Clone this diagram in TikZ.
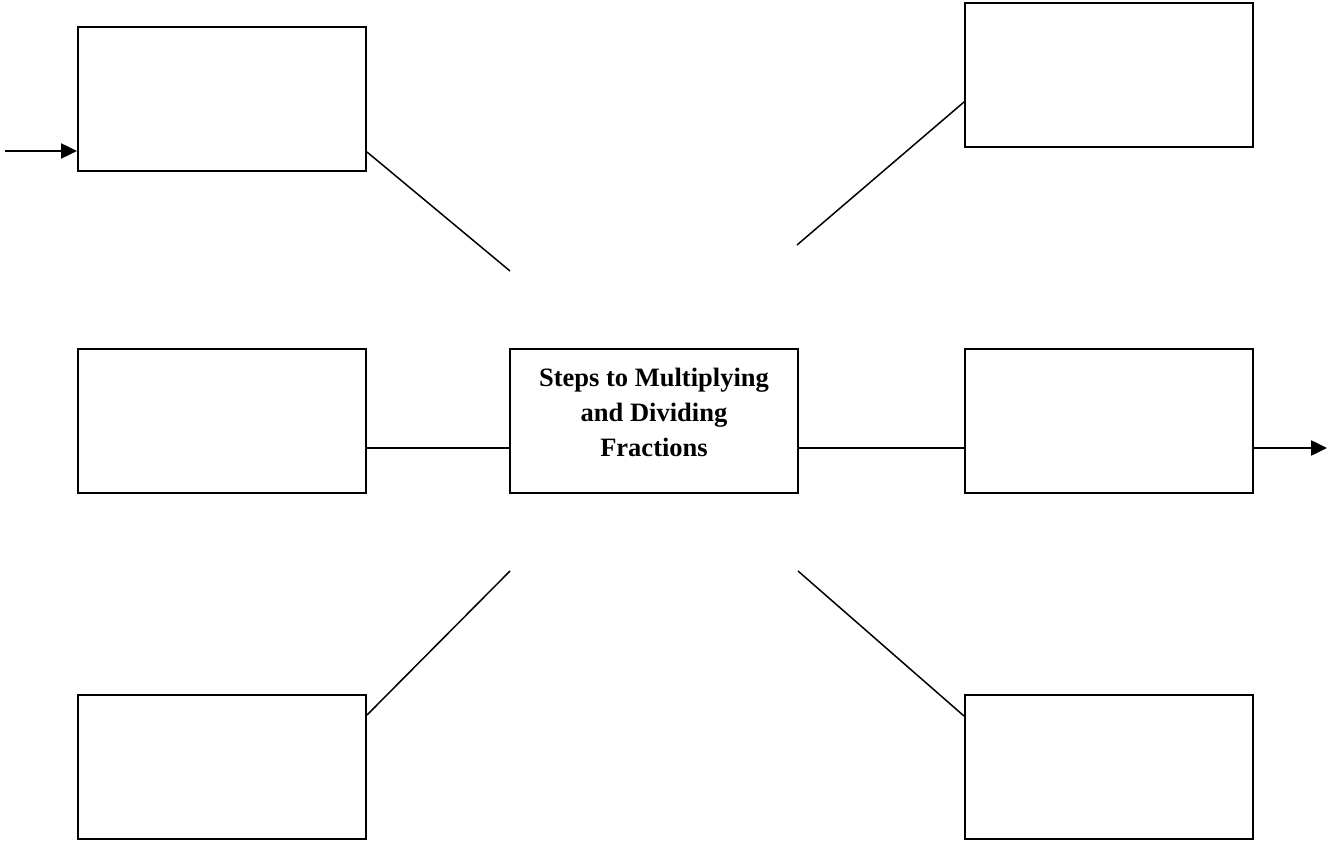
\documentclass[tikz,border=0pt]{standalone}
\usepackage{fontspec}
\setmainfont{Liberation Serif}
\usetikzlibrary{arrows.meta}
\begin{document}
\begin{tikzpicture}[x=1pt,y=-1pt,
  box/.style={draw,line width=2pt,minimum width=288pt,minimum height=144pt,inner sep=0pt},
  conn/.style={line width=1.5pt},
  arr/.style={line width=2.5pt,-{Triangle[length=16pt,width=15pt]}}]
\useasboundingbox (0,0) rectangle (1331,842);
\node[box] (tl) at (222,99) {};
\node[box] (tr) at (1109,75) {};
\node[box] (ml) at (222,421) {};
\node[box] (c) at (654,421) {};
\node[align=center,font=\bfseries\fontsize{26.5}{35}\selectfont,inner sep=0pt] (ct) at (654,412) {Steps to Multiplying\\and Dividing\\Fractions};
\node[box] (mr) at (1109,421) {};
\node[box] (bl) at (222,767) {};
\node[box] (br) at (1109,767) {};
\coordinate (inL) at (5,151);
\coordinate (outR) at (1327,448);
\coordinate (ftl) at (510,271);
\coordinate (ftr) at (797,245);
\coordinate (fbl) at (510,571);
\coordinate (fbr) at (798,571);
\draw[arr] (inL) -- (inL -| tl.west);
\draw[arr] (mr.east |- outR) -- (outR);
\draw[conn] (tl.east |- 0,152) -- (ftl);
\draw[conn] (tr.west |- 0,102) -- (ftr);
\draw[conn] (ml.east |- 0,448) -- (c.west |- 0,448);
\draw[conn] (c.east |- 0,448) -- (mr.west |- 0,448);
\draw[conn] (bl.east |- 0,715) -- (fbl);
\draw[conn] (br.west |- 0,716) -- (fbr);
\end{tikzpicture}
\end{document}
